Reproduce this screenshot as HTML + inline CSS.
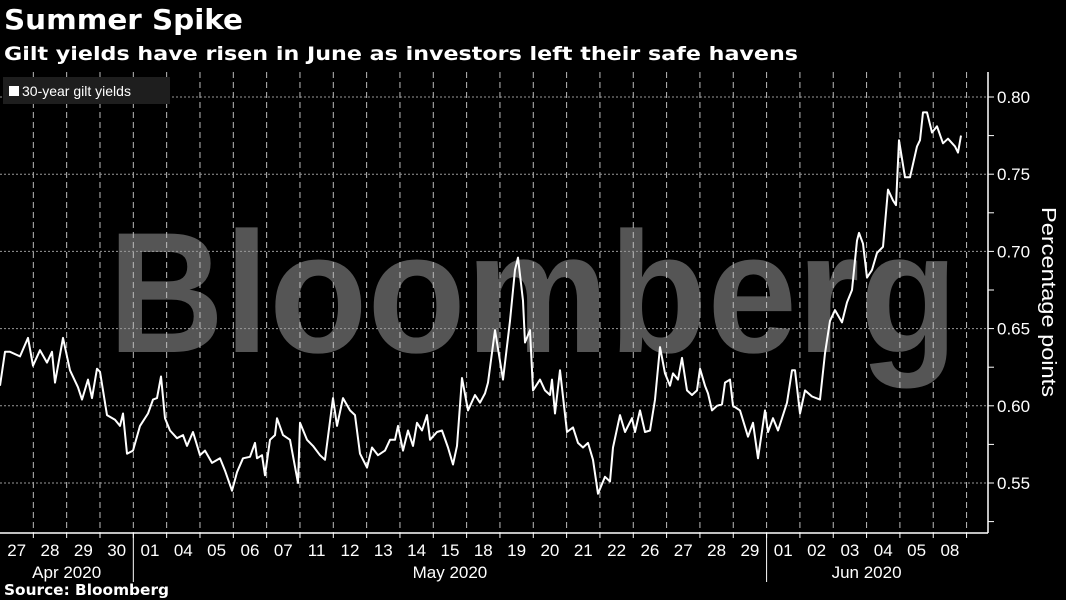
<!DOCTYPE html>
<html><head><meta charset="utf-8"><style>
body{margin:0;background:#000;width:1066px;height:600px;overflow:hidden;font-family:"Liberation Sans","DejaVu Sans",sans-serif;color:#fff}
svg{position:absolute;left:0;top:0}
</style></head><body>
<svg id="c" width="1066" height="600">
<text x="4" y="29" font-size="28" font-weight="bold" fill="#fff" textLength="239" lengthAdjust="spacingAndGlyphs" font-family="DejaVu Sans, sans-serif">Summer Spike</text>
<text x="4" y="60" font-size="19" font-weight="bold" fill="#fff" textLength="794" lengthAdjust="spacingAndGlyphs" font-family="DejaVu Sans, sans-serif">Gilt yields have risen in June as investors left their safe havens</text>
<text x="108" y="352" font-size="172" font-weight="bold" fill="#555" textLength="850" lengthAdjust="spacingAndGlyphs">Bloomberg</text>
<g id="grid"></g>
<g id="axes"></g>
<path id="line" fill="none" stroke="#fff" stroke-width="2" stroke-linejoin="round"></path>
<g>
<rect x="3" y="77" width="167" height="27" fill="#1e1e1e"/>
<rect x="9" y="86" width="10" height="10" fill="#fff"/>
<text x="22" y="96" font-size="14" fill="#fff">30-year gilt yields</text>
</g>
<text transform="translate(1042,302) rotate(90)" text-anchor="middle" font-size="20" fill="#fff" textLength="190" lengthAdjust="spacingAndGlyphs">Percentage points</text>
<text x="4" y="595" font-size="15" font-weight="bold" fill="#fff" textLength="165" lengthAdjust="spacingAndGlyphs" font-family="DejaVu Sans, sans-serif">Source: Bloomberg</text>
</svg>
<script>
const dayLabels=["27","28","29","30","01","04","05","06","07","11","12","13","14","15","18","19","20","21","22","26","27","28","29","01","02","03","04","05","08"];
const months=["Apr 2020","May 2020","Jun 2020"];
const monthStart=[0,4,23];
const yTicks=[0.55,0.60,0.65,0.70,0.75,0.80];
// times in 1/33.33-day units
const times=[0,5,10,20,28,33,40,47,52,55,63,70,78,82,88,92,97,100,107,115,120,123,127,133,140,148,153,157,161,165,170,177,183,187,193,200,205,212,220,225,232,237,243,250,255,257,262,265,270,275,277,283,290,298,300,307,313,320,325,333,337,343,350,355,360,367,372,378,385,390,395,398,403,408,413,417,422,427,430,437,442,448,453,457,462,468,475,480,485,488,495,503,510,515,518,523,525,530,533,540,545,550,552,555,560,567,573,578,583,588,593,598,605,610,613,620,625,632,635,640,645,650,655,660,665,670,673,678,682,687,692,697,700,705,708,712,717,722,725,730,733,740,748,753,758,765,768,773,778,787,792,795,800,805,812,820,825,830,835,842,847,852,857,859,863,867,872,877,883,888,893,896,899,905,910,917,920,923,927,932,937,943,948,955,958,961];
const yields=[.613,.635,.635,.632,.644,.626,.636,.628,.635,.615,.644,.623,.612,.604,.617,.605,.624,.622,.594,.591,.587,.595,.569,.571,.587,.595,.604,.605,.619,.592,.584,.579,.581,.574,.583,.568,.571,.563,.566,.558,.545,.557,.566,.567,.576,.566,.568,.555,.578,.581,.592,.581,.578,.550,.589,.578,.574,.568,.565,.605,.587,.605,.597,.594,.569,.560,.573,.568,.571,.578,.578,.587,.571,.584,.574,.589,.584,.594,.578,.583,.584,.573,.562,.574,.618,.597,.607,.602,.608,.615,.649,.617,.655,.688,.696,.668,.641,.649,.610,.617,.610,.607,.617,.595,.623,.583,.586,.576,.573,.576,.565,.543,.554,.551,.573,.594,.583,.592,.583,.597,.583,.584,.604,.638,.621,.613,.621,.617,.631,.610,.607,.610,.624,.613,.608,.597,.600,.601,.615,.617,.600,.597,.580,.589,.566,.597,.583,.592,.584,.602,.623,.623,.595,.610,.606,.604,.634,.655,.662,.654,.667,.675,.707,.712,.705,.683,.688,.699,.703,.740,.733,.730,.772,.748,.748,.768,.772,.790,.790,.777,.781,.770,.773,.768,.764,.775];
const NS="http://www.w3.org/2000/svg";
const dayW=33.33, axisX=988, plotTop=72, plotBot=533;
const xS=t=>t/33.33*dayW;
const yS=v=>97+(0.80-v)/0.05*77.2;
function mk(tag,attrs,parent){const e=document.createElementNS(NS,tag);for(const k in attrs)e.setAttribute(k,attrs[k]);parent.appendChild(e);return e;}
const grid=document.getElementById('grid'), axes=document.getElementById('axes');
for(let i=1;i<=dayLabels.length;i++){
 const g=mk('line',{x1:i*dayW,x2:i*dayW,y1:plotTop,y2:plotBot,stroke:'#bbb','stroke-width':1,'stroke-dasharray':'6,4'},grid);
 
 
}
for(let k=0;k<=11;k++){
 const v=0.525+k*0.025;
 const y=yS(v);
 if(k%2===1){
  const g=mk('line',{x1:0,x2:axisX,y1:y,y2:y,stroke:'#999','stroke-width':1,'stroke-dasharray':'2,2'},grid);
  
  
 }
 mk('line',{x1:axisX,x2:axisX+6,y1:y,y2:y,stroke:'#fff','stroke-width':1},axes);
}
yTicks.forEach(v=>{
 const t=mk('text',{x:axisX+9,y:yS(v)+6,'font-size':17,fill:'#fff'},axes);
 t.textContent=v.toFixed(2);
 
 
});
mk('line',{x1:axisX,x2:axisX,y1:plotTop,y2:plotBot,stroke:'#fff','stroke-width':1.5},axes);
mk('line',{x1:0,x2:axisX,y1:plotBot,y2:plotBot,stroke:'#fff','stroke-width':1.5},axes);
dayLabels.forEach((d,i)=>{
 mk('line',{x1:(i+1)*dayW,x2:(i+1)*dayW,y1:plotBot,y2:plotBot+5,stroke:'#fff'},axes);
 const t=mk('text',{x:i*dayW+dayW/2,y:556,'font-size':17,fill:'#fff','text-anchor':'middle'},axes);
 t.textContent=d;
 
 
});
months.forEach((m,i)=>{
 const s=monthStart[i], e=i<months.length-1?monthStart[i+1]:dayLabels.length;
 if(i>0)mk('line',{x1:s*dayW,x2:s*dayW,y1:plotBot,y2:582,stroke:'#fff'},axes);
 const t=mk('text',{x:(s+e)/2*dayW,y:578,'font-size':17,fill:'#fff','text-anchor':'middle'},axes);
 t.textContent=m;
 
 
});
let d='';
times.forEach((t,i)=>{d+=(i?'L':'M')+xS(t).toFixed(1)+','+yS(yields[i]).toFixed(1);});
document.getElementById('line').setAttribute('d',d);
</script>
</body></html>
